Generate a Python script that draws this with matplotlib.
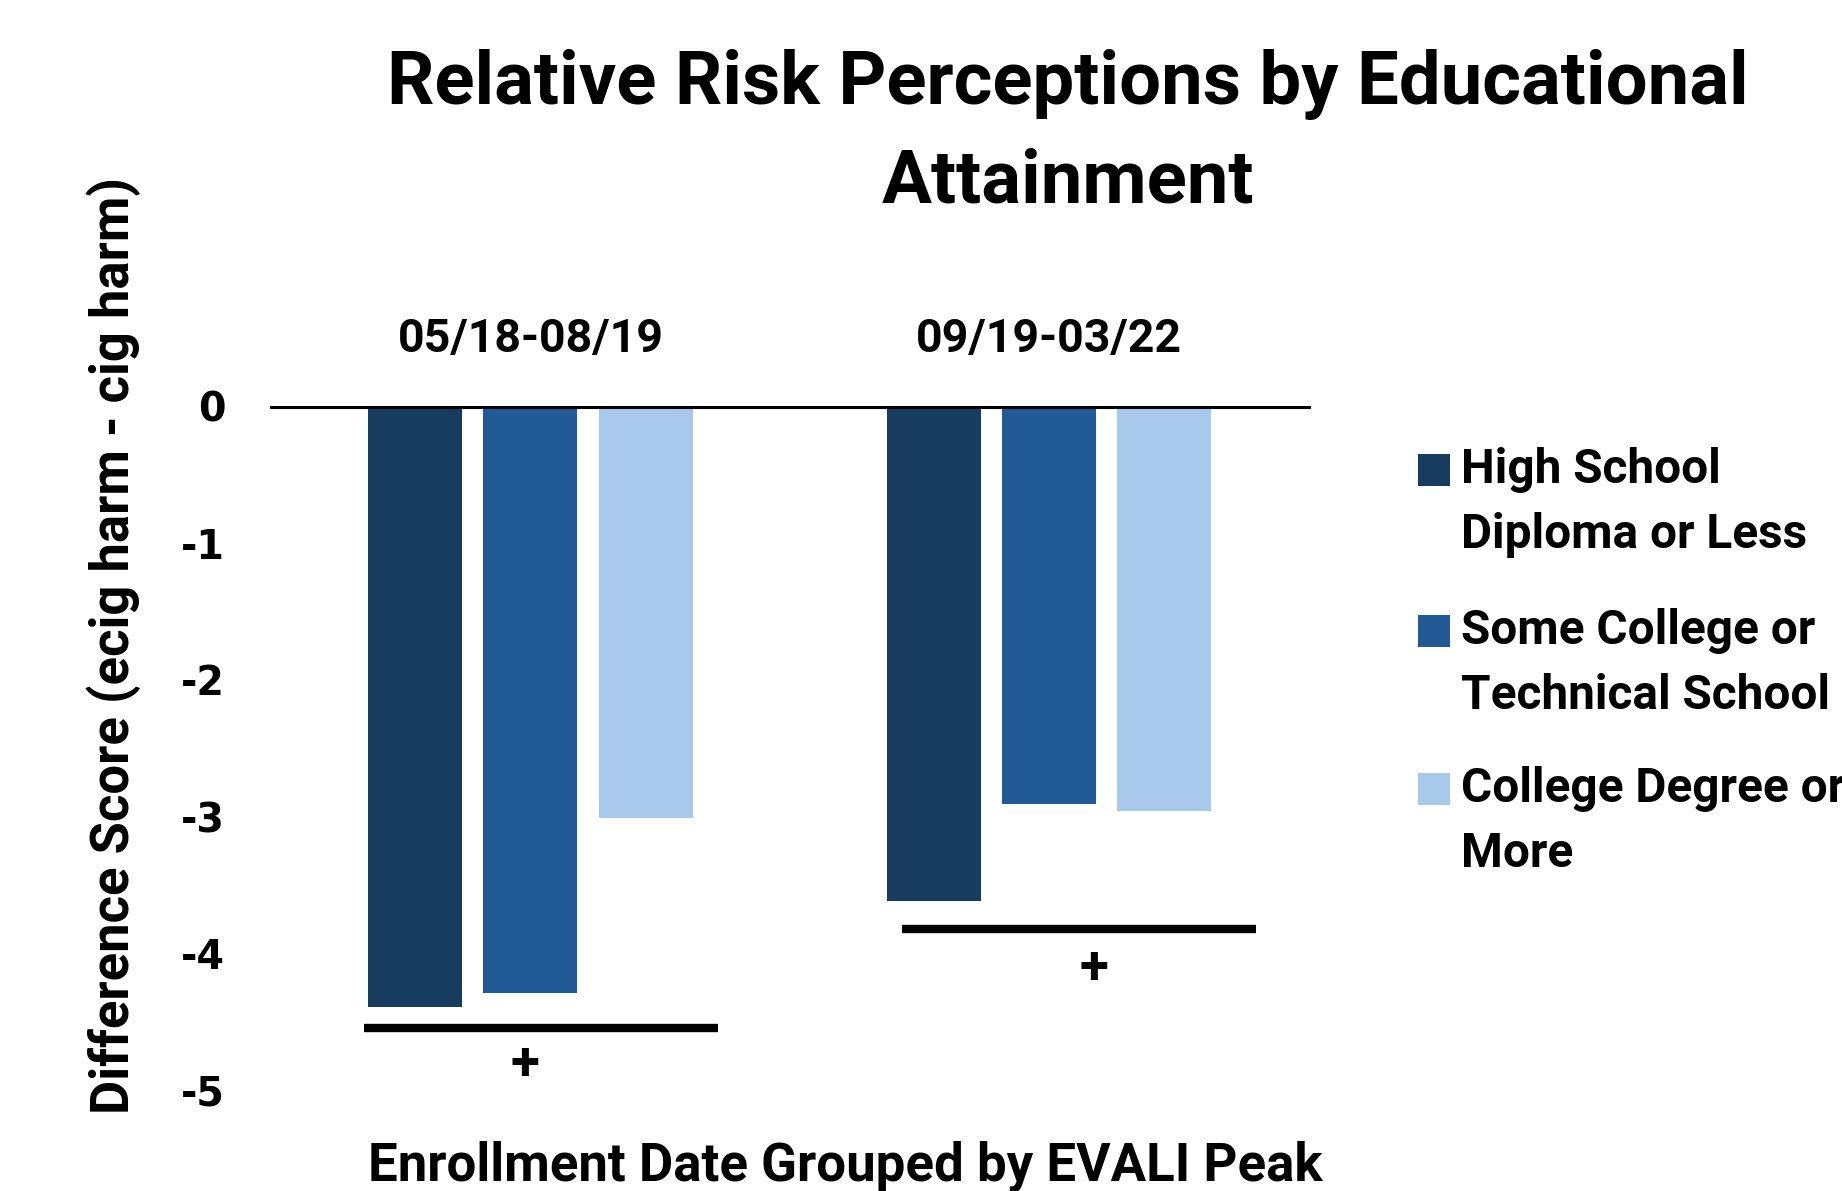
import matplotlib
matplotlib.use("Agg")
import matplotlib.pyplot as plt
import numpy as np
from matplotlib.patches import Rectangle

# ---- data ----
periods = ["05/18-08/19", "09/19-03/22"]
series_names = ["High School\nDiploma or Less",
                "Some College or\nTechnical School",
                "College Degree or\nMore"]
high_school = [-4.39, -3.62]
some_college = [-4.29, -2.91]
college_degree = [-3.01, -2.96]
colors = ["#183C60", "#215A96", "#A8C9EB"]
yticks = [0, -1, -2, -3, -4, -5]
# significance brackets: (x_start, x_end, y, label_x, label_y)
sig_x0 = [-0.32, 0.717]
sig_x1 = [0.361, 1.399]
sig_y = [-4.55, -3.82]
sig_lab_x = [-0.01, 1.086]
sig_lab_y = [-4.82, -4.115]
sig_label = "+"

title = "Relative Risk Perceptions by Educational\nAttainment"
ylabel = "Difference Score (ecig harm - cig harm)"
xlabel = "Enrollment Date Grouped by EVALI Peak"

FONT = "Roboto"
W, H = 1842, 1191
fig = plt.figure(figsize=(W / 100, H / 100), dpi=100)
ax = fig.add_axes([271 / W, 1 - 1090 / H, (1308.6 - 271) / W, (1090 - 406.5) / H])

series = [high_school, some_college, college_degree]
x = np.arange(len(periods))
offsets = [-0.222, 0.0, 0.222]
width = 0.181
for vals, off, c in zip(series, offsets, colors):
    ax.bar(x + off, vals, width=width, color=c, edgecolor="none", zorder=2)

ax.set_xlim(-0.5, 1.5)
ax.set_ylim(-5, 0)
for s in ["left", "right", "bottom"]:
    ax.spines[s].set_visible(False)
ax.spines["top"].set_linewidth(2.2)
ax.spines["top"].set_color("black")

ax.set_yticks(yticks)
ax.set_yticklabels([str(v) for v in yticks], fontfamily="DejaVu Sans",
                   fontweight="bold", fontsize=28.5)
ax.tick_params(axis="y", length=0, pad=33)

ax.xaxis.set_ticks_position("top")
ax.set_xticks(x)
ax.set_xticklabels(periods, fontfamily=FONT, fontweight="bold", fontsize=33.5)
ax.tick_params(axis="x", length=0, pad=33)

for a, b, y, lx, ly in zip(sig_x0, sig_x1, sig_y, sig_lab_x, sig_lab_y):
    ax.plot([a, b], [y, y], color="black", lw=6, solid_capstyle="butt",
            clip_on=False, zorder=3)
    ax.text(lx, ly, sig_label, ha="center", va="center", fontsize=38,
            fontweight="bold", fontfamily=FONT, clip_on=False)

fig.text(1068 / W, 1 - 133 / H, title, ha="center", va="center",
         fontsize=53.5, fontweight="bold", fontfamily=FONT, linespacing=1.50)
fig.text(114 / W, 1 - 646 / H, ylabel, ha="center", va="center", rotation=90,
         fontsize=37.8, fontweight="bold", fontfamily=FONT)
fig.text(845 / W, 1 - 1166 / H, xlabel, ha="center", va="center",
         fontsize=38, fontweight="bold", fontfamily=FONT)

# legend (manual, handles aligned with first text line)
leg_y = [470, 631, 789]
for name, c, yy in zip(series_names, colors, leg_y):
    fig.patches.append(Rectangle((1418 / W, 1 - (yy + 16) / H), 32 / W, 32 / H,
                                 transform=fig.transFigure, facecolor=c,
                                 edgecolor="none"))
    fig.text(1461 / W, 1 - (yy - 23) / H, name, ha="left", va="top",
             fontsize=34.4, fontweight="bold", fontfamily=FONT, linespacing=1.53)

fig.savefig("out.png", dpi=100)
